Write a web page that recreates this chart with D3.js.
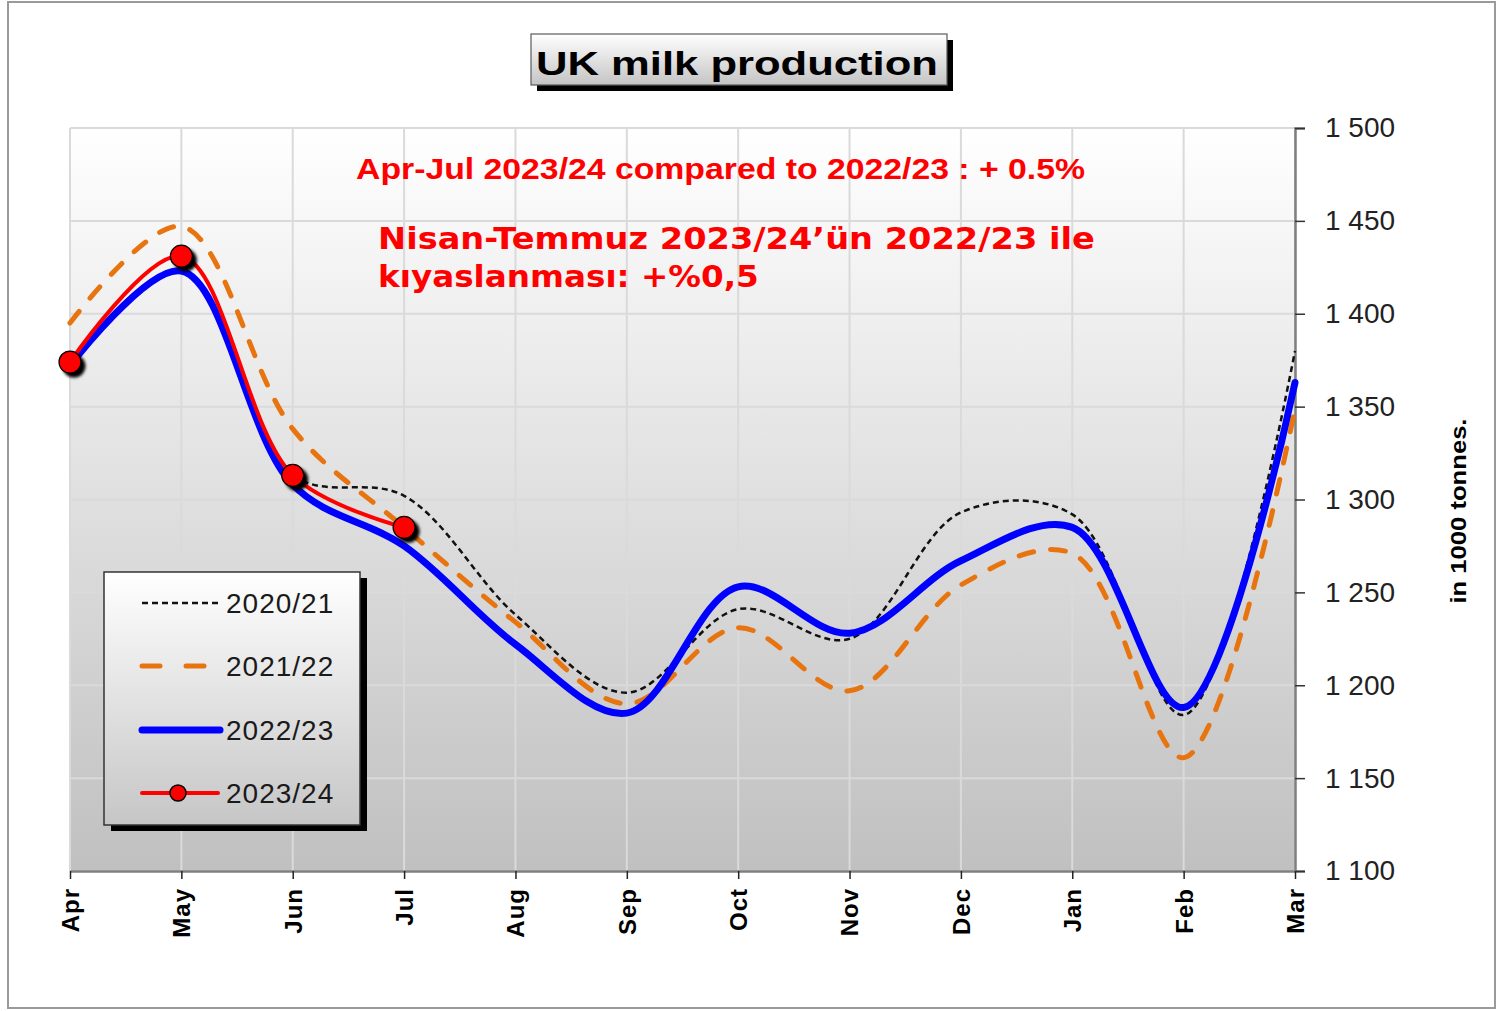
<!DOCTYPE html>
<html>
<head>
<meta charset="utf-8">
<script src="https://cdn.jsdelivr.net/npm/d3@7"></script>
<style>
  html, body { margin: 0; padding: 0; background: #ffffff; }
  svg { display: block; }
</style>
</head>
<body>
<svg id="chart" width="1499" height="1011"></svg>
<script>
// Monthly UK milk deliveries, in 1000 tonnes (milk year April–March)
const months = ["Apr", "May", "Jun", "Jul", "Aug", "Sep", "Oct", "Nov", "Dec", "Jan", "Feb", "Mar"];
const y2020 = [1373, 1424, 1313, 1302, 1238, 1196, 1241, 1225, 1293, 1292, 1184, 1380];
const y2021 = [1395, 1447, 1338, 1285, 1234, 1190, 1231, 1197, 1254, 1271, 1161, 1349];
const y2022 = [1372, 1423, 1308, 1275, 1222, 1185, 1253, 1228, 1267, 1285, 1188, 1363];
const y2023 = [1374, 1431, 1313, 1285];
const yTickValues = [1100, 1150, 1200, 1250, 1300, 1350, 1400, 1450, 1500];
const seriesNames = ["2020/21", "2021/22", "2022/23", "2023/24"];

const svg = d3.select("#chart");
const W = 1499, H = 1011;
const plot = { left: 70, right: 1295, top: 128, bottom: 871 };

const x = d3.scalePoint().domain(months).range([plot.left, plot.right]);
const y = d3.scaleLinear().domain([1100, 1500]).range([plot.bottom, plot.top]);
const fmt = d3.formatLocale({ decimal: ".", thousands: " ", grouping: [3], currency: ["", ""] }).format(",");

const defs = svg.append("defs");
function vGradient(id, stops) {
  const g = defs.append("linearGradient").attr("id", id)
    .attr("x1", 0).attr("y1", 0).attr("x2", 0).attr("y2", 1);
  stops.forEach(([o, c]) => g.append("stop").attr("offset", o).attr("stop-color", c));
}
vGradient("plotBg", [[0, "#ffffff"], [1, "#c0c0c0"]]);
vGradient("boxBg", [[0, "#ffffff"], [1, "#c4c4c4"]]);
vGradient("legendBg", [[0, "#ffffff"], [1, "#c6c6c6"]]);
const blur = defs.append("filter").attr("id", "soft").attr("x", "-50%").attr("y", "-50%").attr("width", "200%").attr("height", "200%");
blur.append("feGaussianBlur").attr("stdDeviation", 1.4);

// outer frame
svg.append("rect").attr("x", 8).attr("y", 2).attr("width", W - 12).attr("height", H - 5)
  .attr("fill", "#ffffff").attr("stroke", "#9a9a9a").attr("stroke-width", 2);

// plot background
svg.append("rect").attr("x", plot.left).attr("y", plot.top)
  .attr("width", plot.right - plot.left).attr("height", plot.bottom - plot.top)
  .attr("fill", "url(#plotBg)");

// gridlines
const grid = svg.append("g").attr("stroke", "#dadada").attr("stroke-width", 2);
grid.selectAll("line.h").data(yTickValues).join("line").attr("class", "h")
  .attr("x1", plot.left).attr("x2", plot.right)
  .attr("y1", d => y(d)).attr("y2", d => y(d));
grid.selectAll("line.v").data(months).join("line").attr("class", "v")
  .attr("x1", d => x(d)).attr("x2", d => x(d))
  .attr("y1", plot.top).attr("y2", plot.bottom);

// right value axis
const yAxis = svg.append("g").attr("transform", `translate(${plot.right},0)`)
  .call(d3.axisRight(y).tickValues(yTickValues).tickSize(10).tickPadding(20).tickFormat(fmt));
yAxis.select(".domain").attr("stroke", "#7f7f7f").attr("stroke-width", 2.5);
yAxis.selectAll(".tick line").attr("stroke", "#333").attr("stroke-width", 1.5);
yAxis.selectAll(".tick text")
  .attr("font-family", "'Liberation Sans', Arial, sans-serif")
  .attr("font-size", 28).attr("fill", "#222").attr("x", 30);

// bottom category axis
const xAxis = svg.append("g").attr("transform", `translate(0,${plot.bottom})`)
  .call(d3.axisBottom(x).tickSize(8).tickSizeOuter(0));
xAxis.select(".domain").attr("stroke", "#7f7f7f").attr("stroke-width", 2.5);
xAxis.selectAll(".tick line").attr("stroke", "#222").attr("stroke-width", 1.5);
xAxis.selectAll(".tick text")
  .attr("font-family", "'Liberation Sans', Arial, sans-serif")
  .attr("font-weight", "bold").attr("font-size", 24).attr("fill", "#000")
  .attr("letter-spacing", 1)
  .attr("text-anchor", "end")
  .attr("transform", "rotate(-90)")
  .attr("x", -17).attr("y", 0).attr("dy", "0.35em");

// axis title
svg.append("text")
  .attr("transform", "translate(1466,511) rotate(-90)")
  .attr("text-anchor", "middle")
  .attr("font-family", "'Liberation Sans', Arial, sans-serif")
  .attr("font-weight", "bold").attr("font-size", 22).attr("fill", "#000")
  .attr("textLength", 185).attr("lengthAdjust", "spacingAndGlyphs")
  .text("in 1000 tonnes.");

// series lines
const line = d3.line()
  .x((d, i) => x(months[i]))
  .y(d => y(d))
  .curve(d3.curveCatmullRom.alpha(0.5));

const lines = svg.append("g").attr("fill", "none");
lines.append("path").datum(y2021).attr("d", line)
  .attr("stroke", "#e8740f").attr("stroke-width", 5)
  .attr("stroke-dasharray", "15,17").attr("stroke-linecap", "round");
lines.append("path").datum(y2020).attr("d", line)
  .attr("stroke", "#111").attr("stroke-width", 2.5)
  .attr("stroke-dasharray", "6,4");
lines.append("path").datum(y2022).attr("d", line)
  .attr("stroke", "#0000ff").attr("stroke-width", 7).attr("stroke-linecap", "round");
lines.append("path").datum(y2023).attr("d", line)
  .attr("stroke", "#ff0000").attr("stroke-width", 4).attr("stroke-linecap", "round");

// markers for the current year
const markers = svg.append("g");
markers.selectAll("circle.shadow").data(y2023).join("circle").attr("class", "shadow")
  .attr("cx", (d, i) => x(months[i]) + 4).attr("cy", d => y(d) + 4)
  .attr("r", 11.5).attr("fill", "#000").attr("filter", "url(#soft)");
markers.selectAll("circle.dot").data(y2023).join("circle").attr("class", "dot")
  .attr("cx", (d, i) => x(months[i])).attr("cy", d => y(d))
  .attr("r", 11).attr("fill", "#ff0000").attr("stroke", "#000").attr("stroke-width", 1.2);

// title box
svg.append("rect").attr("x", 537).attr("y", 40).attr("width", 416).attr("height", 51).attr("fill", "#000");
svg.append("rect").attr("x", 531).attr("y", 34).attr("width", 416).attr("height", 51)
  .attr("fill", "url(#boxBg)").attr("stroke", "#5a5a5a").attr("stroke-width", 1.2);
svg.append("text").attr("x", 536).attr("y", 75)
  .attr("font-family", "'Liberation Sans', Arial, sans-serif")
  .attr("font-weight", "bold").attr("font-size", 33).attr("fill", "#000")
  .attr("textLength", 402).attr("lengthAdjust", "spacingAndGlyphs")
  .text("UK milk production");

// annotations
svg.append("text").attr("x", 356).attr("y", 179)
  .attr("font-family", "'Liberation Sans', Arial, sans-serif")
  .attr("font-weight", "bold").attr("font-size", 29).attr("fill", "#ff0000")
  .attr("textLength", 729).attr("lengthAdjust", "spacingAndGlyphs")
  .text("Apr-Jul 2023/24  compared to 2022/23 : + 0.5%");

// Turkish note: each line is widened to its target length with a horizontal scale
const trLines = [
  { text: "Nisan-Temmuz 2023/24’ün 2022/23 ile", y: 249, width: 717 },
  { text: "kıyaslanması: +%0,5", y: 287, width: 381 }
];
trLines.forEach(t => {
  const g = svg.append("g").attr("transform", `translate(378,${t.y})`);
  const txt = g.append("text")
    .attr("font-family", "'DejaVu Sans', Verdana, sans-serif")
    .attr("font-weight", "bold").attr("font-size", 31).attr("fill", "#ff0000")
    .text(t.text);
  const natural = txt.node().getComputedTextLength();
  txt.attr("transform", `scale(${t.width / natural},1)`);
});

// legend
const lg = svg.append("g");
lg.append("rect").attr("x", 111).attr("y", 578).attr("width", 256).attr("height", 253).attr("fill", "#000");
lg.append("rect").attr("x", 104).attr("y", 572).attr("width", 256).attr("height", 253)
  .attr("fill", "url(#legendBg)").attr("stroke", "#333").attr("stroke-width", 1.5);
const rowsY = [603, 666, 730, 793];
const styles = [
  { stroke: "#111", width: 2.5, dash: "6,4", cap: "butt", x2: 218 },
  { stroke: "#e8740f", width: 5, dash: "18,26", cap: "round", x2: 206 },
  { stroke: "#0000ff", width: 7, dash: null, cap: "round", x2: 220 },
  { stroke: "#ff0000", width: 4, dash: null, cap: "round", x2: 218 }
];
seriesNames.forEach((name, i) => {
  const s = styles[i];
  lg.append("line").attr("x1", 142).attr("x2", s.x2).attr("y1", rowsY[i]).attr("y2", rowsY[i])
    .attr("stroke", s.stroke).attr("stroke-width", s.width)
    .attr("stroke-dasharray", s.dash).attr("stroke-linecap", s.cap);
  if (i === 3) {
    lg.append("circle").attr("cx", 178).attr("cy", rowsY[i]).attr("r", 8)
      .attr("fill", "#ff0000").attr("stroke", "#000").attr("stroke-width", 1.5);
  }
  lg.append("text").attr("x", 226).attr("y", rowsY[i]).attr("dy", "0.35em")
    .attr("font-family", "'Liberation Sans', Arial, sans-serif")
    .attr("font-size", 28).attr("letter-spacing", 1).attr("fill", "#1a1a1a")
    .text(name);
});
</script>
</body>
</html>
